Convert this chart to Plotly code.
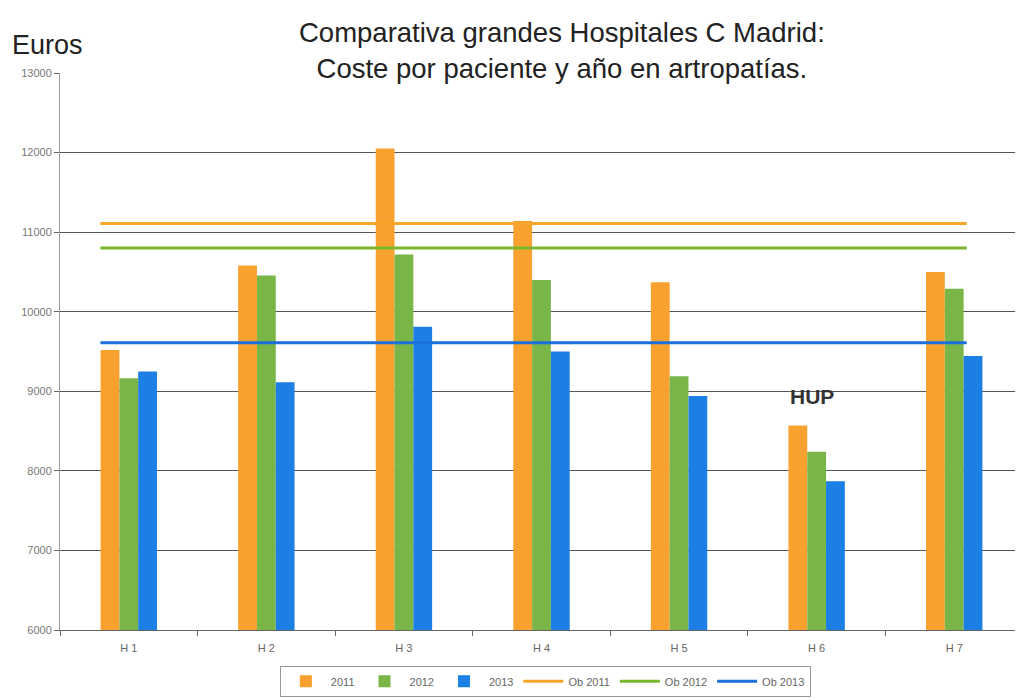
import plotly.graph_objects as go

hospitals = ["H 1", "H 2", "H 3", "H 4", "H 5", "H 6", "H 7"]
cost_2011 = [9520, 10580, 12050, 11140, 10370, 8570, 10500]
cost_2012 = [9165, 10455, 10720, 10400, 9190, 8240, 10290]
cost_2013 = [9250, 9115, 9810, 9500, 8940, 7870, 9445]
ob_2011 = [11110] * 7
ob_2012 = [10800] * 7
ob_2013 = [9610] * 7

fig = go.Figure()
for name, vals, col in [("2011", cost_2011, "#F9A12E"),
                        ("2012", cost_2012, "#7AB548"),
                        ("2013", cost_2013, "#1C7FE3")]:
    fig.add_trace(go.Bar(x=hospitals, y=vals, name=name, marker_color=col,
                         marker_line_width=0))

for name, vals, col in [("Ob 2011", ob_2011, "#F7A62A"),
                        ("Ob 2012", ob_2012, "#79B82C"),
                        ("Ob 2013", ob_2013, "#1A6FDB")]:
    fig.add_trace(go.Scatter(x=hospitals, y=vals, name=name, mode="lines",
                             line=dict(color=col, width=3), xaxis="x2"))

fig.add_annotation(x="H 6", y=9000, text="<b>HUP</b>", showarrow=False,
                   xshift=-5, yshift=-5, font=dict(size=21, color="#333"))

# title and axis caption
fig.add_annotation(text="Comparativa grandes Hospitales C Madrid:<br>Coste por paciente y año en artropatías.",
                   xref="paper", yref="paper", x=0.521, y=1.0, yshift=23,
                   xanchor="center", yanchor="middle", showarrow=False,
                   font=dict(size=27.5, color="#222"))
fig.add_annotation(text="Euros", xref="paper", yref="paper", x=-0.052, y=1.0,
                   xanchor="left", yanchor="middle", yshift=28, showarrow=False,
                   font=dict(size=27, color="#222"))

fig.update_layout(
    width=1015, height=692,
    paper_bgcolor="white", plot_bgcolor="white",
    font=dict(family="Liberation Sans", color="#222"),
    barmode="group", bargap=0.59, bargroupgap=0,
    margin=dict(l=52, r=0, t=65, b=70),
    xaxis=dict(type="category", range=[-0.5, 6.5], showgrid=False,
               showline=True, linecolor="#666", ticks="outside", tickson="boundaries",
               ticklen=5, tickcolor="#666", ticklabelstandoff=8,
               tickfont=dict(size=11, color="#666")),
    xaxis2=dict(type="category", overlaying="x", range=[-0.28, 6.39],
                visible=False),
    yaxis=dict(range=[6000, 13000], dtick=1000, showgrid=True, gridcolor="#555",
               gridwidth=1, showline=True, linecolor="#999", ticks="outside",
               ticklen=5, tickcolor="#666", tickformat="d",
               tickfont=dict(size=11, color="#777")),
    legend=dict(orientation="h", x=0.504, xanchor="center", y=-0.12, yanchor="bottom",
                bordercolor="#999", borderwidth=1, font=dict(size=11, color="#666"),
                itemwidth=40, tracegroupgap=0),
)

fig.write_html("out.html")
